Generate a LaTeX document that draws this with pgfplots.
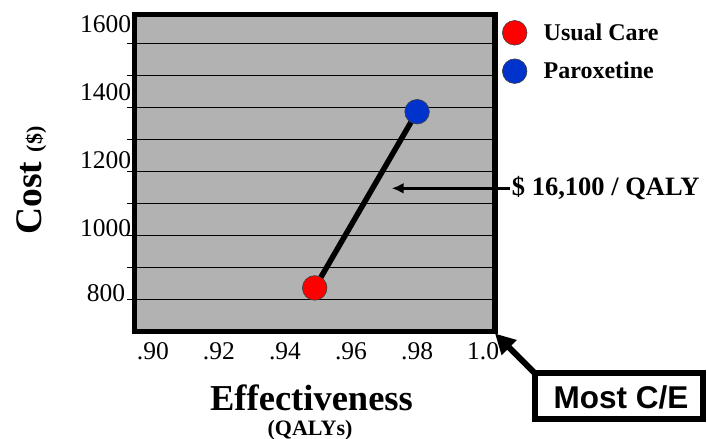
\documentclass[border=0pt]{standalone}
\usepackage{fontspec}
\setmainfont{Liberation Serif}
\newfontfamily\arialfont{Liberation Sans}
\usepackage{pgfplots}
\pgfplotsset{compat=1.18}
\usetikzlibrary{arrows.meta}
\definecolor{plotgray}{RGB}{178,178,178}
\definecolor{ucred}{RGB}{255,0,0}
\definecolor{pxblue}{RGB}{0,51,204}
\begin{document}
\begin{tikzpicture}[x=1pt,y=1pt]
\path[use as bounding box] (0,0) rectangle (707,-439);
\begin{axis}[
  at={(134.7pt,-331.5pt)}, anchor=south west,
  scale only axis, width=360.3pt, height=317.2pt,
  xmin=0.8945, xmax=1.0036, ymin=700, ymax=1690,
  axis background/.style={fill=plotgray},
  axis line style={line width=5.3pt, line join=miter},
  ymajorgrids, grid style={black, line width=0.9pt},
  ytick={800,900,...,1600},
  yticklabels={{\raisebox{-1.7pt}[0pt][0pt]{800\hspace{6pt}}},{},{\raisebox{-0.7pt}[0pt][0pt]{1000}},{},{\raisebox{2.3pt}[0pt][0pt]{1200}},{},{\raisebox{6.6pt}[0pt][0pt]{1400}},{},{\raisebox{10.4pt}[0pt][0pt]{1600}}},
  xtick={0.90,0.92,0.94,0.96,0.98,1.0},
  xticklabels={.90,.92,.94,.96,.98,1.0},
  tick align=outside, major tick length=7.7pt,
  xtick style={draw=none},
  ytick style={line width=0.9pt, black},
  ytick pos=left,
  tick label style={font=\fontsize{25.5}{30}\selectfont},
  yticklabel style={inner sep=0pt, anchor=east, xshift=4.3pt},
  /pgf/number format/assume math mode=true,
  legend style={draw=none, fill=none, at={(1.0205,0.9805)}, anchor=north west,
    inner sep=0pt, outer sep=0pt, row sep=13.8pt,
    font=\fontsize{24}{28}\selectfont\bfseries,
    /tikz/every odd column/.append style={column sep=14.7pt}},
  legend cell align=left,
  legend image code/.code={\draw[#1] plot coordinates {(12.3pt,0pt)};},
]
\addplot[black, line width=5.5pt, forget plot] coordinates {(0.949,836) (0.980,1386)};
\addplot[only marks, mark=*, mark size=12.3pt, mark options={fill=ucred, draw=black!75, line width=0.6pt}] coordinates {(0.949,836)};
\addlegendentry{Usual Care}
\addplot[only marks, mark=*, mark size=12.3pt, mark options={fill=pxblue, draw=black!75, line width=0.6pt}] coordinates {(0.980,1386)};
\addlegendentry{Paroxetine}
\end{axis}
\draw[line width=3.2pt, -{Latex[length=12pt,width=11pt]}] (510,-188.3) -- (391.7,-188.3);
\node[anchor=base west, inner sep=0pt, font=\fontsize{26.5}{30}\selectfont\bfseries] at (511.7,-195) {\$ 16,100 / QALY};
\node[anchor=base, inner sep=0pt, font=\fontsize{36.5}{40}\selectfont\bfseries] at (311.5,-410) {Effectiveness};
\node[anchor=base, inner sep=0pt, font=\fontsize{22}{26}\selectfont\bfseries] at (310,-435) {(QALYs)};
\node[rotate=90, anchor=base, inner sep=0pt] at (41.7,-180.5) {\fontsize{37.5}{40}\selectfont\bfseries Cost \fontsize{22}{26}\selectfont(\$)};
\draw[line width=6pt] (534.7,-373) rectangle (703,-418.7);
\node[anchor=base, inner sep=0pt, font=\arialfont\fontsize{31.5}{36}\selectfont\bfseries] at (621,-408.3) {Most C/E};
\draw[line width=6pt, -{Triangle[length=20pt,width=20pt]}] (534.7,-373) -- (495,-333.5);
\end{tikzpicture}
\end{document}
